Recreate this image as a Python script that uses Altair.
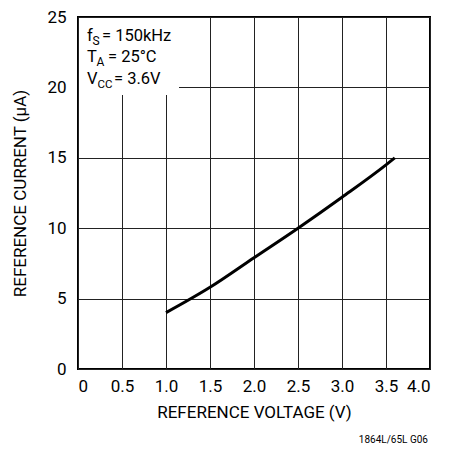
import altair as alt
import pandas as pd

# Data
voltage = [1.0, 1.5, 2.0, 2.5, 3.0, 3.5, 3.6]
current = [4.0, 5.8, 7.9, 10.0, 12.2, 14.5, 15.0]

x_ticks = [0, 0.5, 1.0, 1.5, 2.0, 2.5, 3.0, 3.5, 4.0]
y_ticks = [0, 5, 10, 15, 20, 25]

df = pd.DataFrame({"V": voltage, "I": current})
one = pd.DataFrame({"k": [0]})

FONT = "Roboto"

x = alt.X("V:Q", scale=alt.Scale(domain=[0, 4]),
          axis=alt.Axis(values=x_ticks, title="REFERENCE VOLTAGE (V)",
                        labelExpr="datum.value == 0 ? '0' : format(datum.value, '.1f')"))
y = alt.Y("I:Q", scale=alt.Scale(domain=[0, 25]),
          axis=alt.Axis(values=y_ticks, title="REFERENCE CURRENT (\u03bcA)"))

curve = alt.Chart(df).mark_line(color="black", strokeWidth=3, interpolate="monotone").encode(x=x, y=y)

box = alt.Chart(one).mark_rect(fill="white", strokeWidth=0).encode(
    x=alt.value(1), x2=alt.value(101), y=alt.value(1), y2=alt.value(78))

def txt(s, px, py, size=16.5):
    return alt.Chart(one).mark_text(text=s, align="left", baseline="alphabetic",
                                    font=FONT, fontSize=size, fill="black").encode(
        x=alt.value(px), y=alt.value(py))

ann = [
    txt("f", 9, 24), txt("S", 14.5, 27.5, 12), txt("= 150kHz", 24, 24),
    txt("T", 9, 45), txt("A", 18.5, 48.5, 12), txt("= 25\u00b0C", 30, 45),
    txt("V", 9, 67), txt("CC", 19.5, 70.5, 11.5), txt("= 3.6V", 36, 67),
]

foot = alt.Chart(one).mark_text(text="1864L/65L G06", align="right", baseline="middle",
                                font=FONT, fontSize=10, fill="black").encode(
    x=alt.value(350), y=alt.value(423))

chart = alt.layer(curve, box, *ann, foot).properties(
    width=352, height=352,
    autosize=alt.AutoSizeParams(type="none"),
    padding={"left": 70, "top": 9, "right": 25, "bottom": 78},
).configure_view(stroke="black", strokeWidth=2).configure_axis(
    grid=True, gridColor="#222", gridWidth=1, domain=False, ticks=False,
    labelFont=FONT, labelFontSize=17, labelColor="black",
    titleFont=FONT, titleFontSize=17, titleFontWeight="normal", titleColor="black",
).configure_axisX(labelPadding=9, titlePadding=10).configure_axisY(labelPadding=12, titlePadding=17)

chart.save("out.html", embed_options={"renderer": "svg", "actions": False})
